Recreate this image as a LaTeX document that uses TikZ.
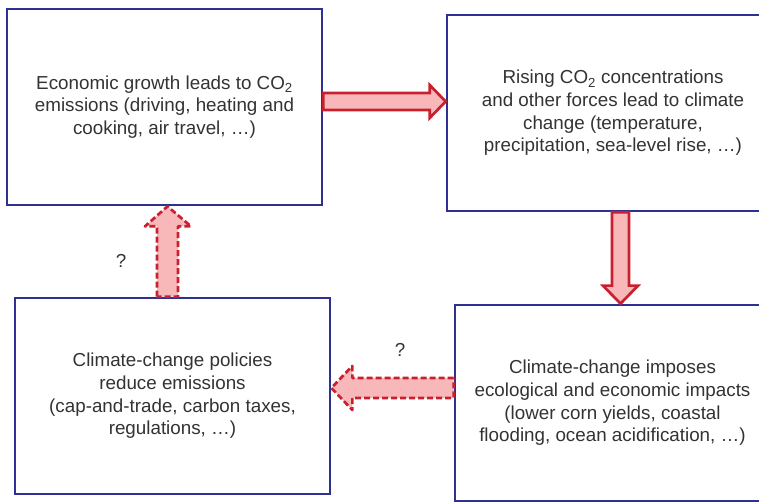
\documentclass[tikz,border=0pt]{standalone}
\usepackage{fontspec}
\setmainfont{Liberation Sans}
\usetikzlibrary{calc}
\definecolor{boxblue}{HTML}{2E3192}
\definecolor{arrred}{HTML}{C8202F}
\definecolor{arrpink}{HTML}{F8B8BA}
\definecolor{txtgray}{HTML}{333333}
\begin{document}
\begin{tikzpicture}[x=1pt,y=1pt,
  box/.style={draw=boxblue,line width=2.7pt,fill=white,minimum height=196pt,inner sep=0pt,
    align=center,text=txtgray,font=\fontsize{18.8}{22.6}\selectfont},
  fatsolid/.style={draw=arrred,fill=arrpink,line width=2.7pt,line join=miter},
  fatdash/.style={draw=arrred,fill=arrpink,line width=2.7pt,line join=round,dash pattern=on 6pt off 3pt},
  qlabel/.style={text=txtgray,font=\fontsize{18.8}{22.6}\selectfont,inner sep=0pt}]
\useasboundingbox (0,0) rectangle (759,503);
\clip (0,0) rectangle (759,503);
\node[box,minimum width=315pt] (A) at (164.5,396) {Economic growth leads to CO\textsubscript{2}\\emissions (driving, heating and\\cooking, air travel, …)};
\node[box,minimum width=332pt] (B) at (613,390) {Rising CO\textsubscript{2} concentrations\\and other forces lead to climate\\change (temperature,\\precipitation, sea-level rise, …)};
\node[box,minimum width=315pt] (C) at (172.5,107) {Climate-change policies\\reduce emissions\\(cap-and-trade, carbon taxes,\\regulations, …)};
\node[box,minimum width=315pt] (D) at (612.5,100) {Climate-change imposes\\ecological and economic impacts\\(lower corn yields, coastal\\flooding, ocean acidification, …)};
% A -> B
\draw[fatsolid] let \p1=(A.east), \p2=(B.west) in
  (\x1,410) -- (\x2-16,410) -- (\x2-16,418) -- (\x2,401.5) -- (\x2-16,385) -- (\x2-16,393) -- (\x1,393) -- cycle;
% B -> D
\draw[fatsolid] let \p1=(B.south), \p2=(D.north) in
  (612,\y1) -- (612,\y2+18) -- (603,\y2+18) -- (620.5,\y2) -- (638,\y2+18) -- (629,\y2+18) -- (629,\y1) -- cycle;
% C -> A (dashed)
\draw[fatdash] let \p1=(C.north), \p2=(A.south) in
  (157,\y1) -- (157,\y2-20) -- (145,\y2-20) -- (167.5,\y2) -- (191,\y2-20) -- (178,\y2-20) -- (178,\y1) -- cycle;
% D -> C (dashed)
\draw[fatdash] let \p1=(D.west), \p2=(C.east) in
  (\x1,125) -- (\x2+21,125) -- (\x2+21,137) -- (\x2,115) -- (\x2+21,93) -- (\x2+21,105) -- (\x1,105) -- cycle;
\node[qlabel] (q1) at (121,242) {?};
\node[qlabel] (q2) at (400,153) {?};
\end{tikzpicture}
\end{document}
